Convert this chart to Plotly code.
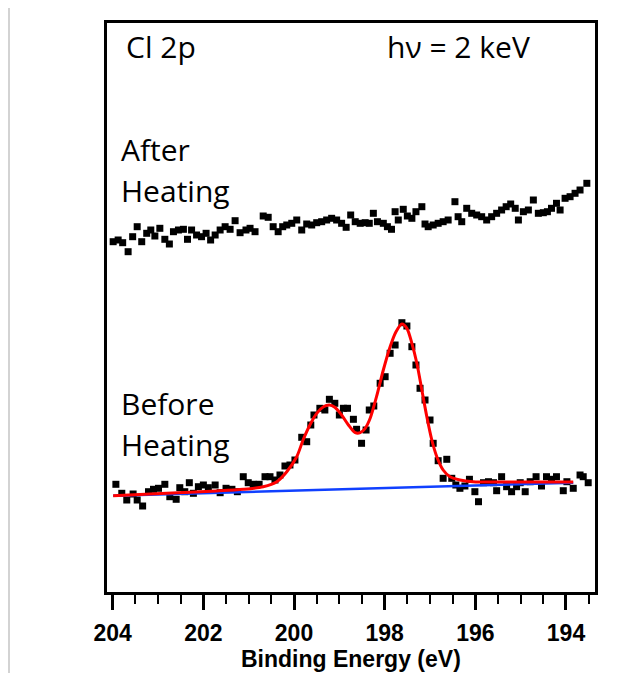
import plotly.graph_objects as go

# ---------------- data (binding energy in eV, intensity in arbitrary units) ----------------
before_energy = [203.93, 203.80, 203.69, 203.55, 203.46, 203.34, 203.21, 203.10, 202.99, 202.85,
                 202.74, 202.60, 202.52, 202.41, 202.31, 202.22, 202.11, 202.00, 201.89, 201.74,
                 201.63, 201.50, 201.37, 201.25, 201.12, 201.01, 200.90, 200.77, 200.64, 200.53,
                 200.42, 200.31, 200.20, 200.09, 199.98, 199.83, 199.72, 199.63, 199.56, 199.43,
                 199.32, 199.22, 199.10, 199.00, 198.91, 198.82, 198.69, 198.62, 198.51, 198.41,
                 198.34, 198.24, 198.10, 197.99, 197.88, 197.77, 197.62, 197.51, 197.40, 197.31,
                 197.22, 197.11, 197.00, 196.93, 196.82, 196.71, 196.63, 196.52, 196.43, 196.34,
                 196.23, 196.13, 196.01, 195.93, 195.82, 195.71, 195.60, 195.53, 195.42, 195.31,
                 195.20, 195.09, 195.01, 194.90, 194.79, 194.66, 194.54, 194.43, 194.32, 194.21,
                 194.06, 193.98, 193.84, 193.69, 193.62, 193.51]
before_intensity = [109.7, 100.7, 94.0, 100.0, 94.0, 88.0, 102.3, 104.7, 105.7, 109.7,
                    97.3, 94.7, 106.3, 102.3, 111.3, 100.7, 107.3, 109.0, 106.3, 109.0,
                    101.3, 105.7, 104.7, 102.3, 117.3, 111.3, 109.7, 109.7, 117.3, 117.3,
                    114.0, 119.0, 128.0, 129.0, 134.0, 156.7, 152.3, 169.0, 179.0, 185.7,
                    184.0, 194.7, 190.7, 179.0, 185.7, 185.7, 174.7, 164.7, 150.7, 164.0,
                    184.0, 188.0, 210.7, 217.3, 240.7, 249.0, 271.3, 268.0, 247.3, 229.0,
                    205.7, 194.0, 174.0, 150.7, 133.3, 115.7, 134.7, 115.7, 109.0, 105.7,
                    108.0, 114.7, 102.3, 92.3, 111.3, 112.3, 111.3, 103.3, 117.3, 107.3,
                    102.3, 107.3, 111.3, 102.3, 112.3, 117.3, 108.0, 117.3, 114.7, 117.3,
                    103.3, 112.3, 105.7, 119.0, 117.3, 111.3]

after_energy = [203.99, 203.88, 203.78, 203.66, 203.56, 203.46, 203.36, 203.25, 203.16, 203.07,
                202.96, 202.85, 202.75, 202.66, 202.55, 202.44, 202.35, 202.26, 202.15, 202.04,
                201.94, 201.84, 201.74, 201.63, 201.52, 201.41, 201.30, 201.19, 201.06, 200.97,
                200.86, 200.68, 200.57, 200.46, 200.35, 200.25, 200.16, 200.05, 199.94, 199.83,
                199.72, 199.61, 199.50, 199.39, 199.28, 199.17, 199.06, 198.95, 198.85, 198.75,
                198.65, 198.54, 198.43, 198.34, 198.25, 198.16, 198.03, 197.94, 197.85, 197.77,
                197.70, 197.59, 197.50, 197.40, 197.31, 197.18, 197.11, 197.04, 196.93, 196.82,
                196.71, 196.60, 196.45, 196.38, 196.30, 196.19, 196.08, 195.97, 195.86, 195.75,
                195.64, 195.53, 195.42, 195.32, 195.22, 195.12, 195.05, 194.94, 194.83, 194.72,
                194.61, 194.50, 194.41, 194.32, 194.21, 194.13, 194.02, 193.91, 193.80, 193.69,
                193.54]
after_intensity = [352.3, 354.0, 351.3, 342.3, 357.3, 367.3, 352.3, 360.7, 364.0, 358.0,
                   365.7, 354.7, 350.0, 362.3, 364.0, 364.7, 354.7, 364.0, 359.0, 357.3,
                   360.7, 354.0, 359.0, 364.0, 367.3, 364.7, 373.3, 361.3, 364.0, 365.7,
                   362.3, 378.0, 376.7, 367.3, 362.3, 367.3, 369.0, 370.7, 374.0, 364.0,
                   370.0, 369.0, 371.3, 372.3, 374.0, 375.7, 374.0, 370.7, 366.7, 379.0,
                   372.3, 370.7, 371.3, 370.7, 380.7, 372.3, 370.7, 367.3, 364.7, 382.3,
                   374.0, 384.7, 378.0, 375.7, 382.3, 387.3, 370.0, 367.3, 369.0, 370.7,
                   372.3, 374.0, 392.3, 377.3, 372.3, 385.7, 380.7, 379.0, 377.3, 374.0,
                   377.3, 380.7, 384.0, 387.3, 390.0, 385.7, 374.0, 382.3, 384.0, 394.0,
                   380.7, 381.3, 382.3, 385.7, 390.7, 384.0, 395.7, 397.3, 400.7, 404.0,
                   410.7]

fit_energy = [203.99, 202.81, 201.71, 201.12, 200.68, 200.38, 200.16, 199.94, 199.80, 199.65,
              199.50, 199.35, 199.22, 199.10, 198.95, 198.80, 198.65, 198.54, 198.43, 198.32,
              198.18, 198.03, 197.88, 197.75, 197.62, 197.51, 197.40, 197.29, 197.18, 197.07,
              196.96, 196.85, 196.71, 196.56, 196.34, 196.05, 195.46, 194.72, 193.84]
fit_intensity = [98.3, 100.7, 103.0, 104.7, 107.3, 112.3, 122.3, 137.3, 154.0, 169.0,
                 180.7, 187.3, 189.0, 186.7, 179.0, 169.0, 161.3, 161.3, 165.7, 175.7,
                 197.3, 224.0, 247.3, 262.3, 270.0, 265.7, 250.7, 230.7, 204.0, 177.3,
                 154.0, 137.3, 124.0, 117.3, 114.0, 112.3, 112.0, 112.0, 112.0]

background_energy = [203.99, 193.84]
background_intensity = [98.3, 111.3]

x_ticks = [204, 202, 200, 198, 196, 194]

# ---------------- figure ----------------
fig = go.Figure()

marker_style = dict(symbol="square", size=7, color="black", line=dict(width=0))
fig.add_trace(go.Scatter(x=after_energy, y=after_intensity, mode="markers",
                         marker=marker_style, name="After Heating"))
fig.add_trace(go.Scatter(x=before_energy, y=before_intensity, mode="markers",
                         marker=marker_style, name="Before Heating"))
fig.add_trace(go.Scatter(x=background_energy, y=background_intensity, mode="lines",
                         line=dict(color="#1040ff", width=2.5), name="Background"))
fig.add_trace(go.Scatter(x=fit_energy, y=fit_intensity, mode="lines",
                         line=dict(color="#ff0000", width=3, shape="spline", smoothing=0.8),
                         name="Fit"))

text_font = dict(family="Open Sans", size=30, color="black")
annos = [
    ("Cl 2p", 203.75, 548.0),
    ("h\u03bd = 2 keV", 198.0, 548.0),
    ("After", 203.86, 444.6),
    ("Heating", 203.86, 404.0),
    ("Before", 203.86, 190.6),
    ("Heating", 203.86, 149.6),
]
for txt, xx, yy in annos:
    fig.add_annotation(x=xx, y=yy, xref="x", yref="y", text=txt, showarrow=False,
                       xanchor="left", yanchor="middle", font=text_font)

bold_font = dict(family="Liberation Sans, Arial, sans-serif", color="black", weight="bold")

# plot area: x 99..587, y 15..584 (figure pixels)
fig.add_annotation(x=0.5, y=(584 - 651) / 569, xref="paper", yref="paper",
                   text="Binding Energy (eV)", showarrow=False,
                   xanchor="center", yanchor="middle",
                   font=dict(size=23, **bold_font))

# thin grey line at the left edge of the picture
fig.add_shape(type="line", xref="paper", yref="paper",
              x0=(1 - 99) / 488, x1=(1 - 99) / 488,
              y0=(584 + 1) / 569, y1=(584 - 673) / 569,
              line=dict(color="#c4c4c4", width=1.5))

fig.update_xaxes(range=[204.126, 193.36], tickvals=x_ticks,
                 ticktext=[str(t) for t in x_ticks],
                 ticks="outside", ticklen=15, tickwidth=3, tickcolor="black",
                 minor=dict(dtick=0.5, tick0=0, ticks="outside", ticklen=9, tickwidth=2,
                            tickcolor="black", showgrid=False),
                 showline=True, linewidth=3, linecolor="black", mirror=True,
                 showgrid=False, zeroline=False, ticklabelstandoff=3,
                 tickfont=dict(size=23, **bold_font))
fig.update_yaxes(range=[2, 571], showticklabels=False, ticks="",
                 showline=True, linewidth=3, linecolor="black", mirror=True,
                 showgrid=False, zeroline=False)

fig.update_layout(width=641, height=673, autosize=False,
                  margin=dict(l=99, r=54, t=15, b=89),
                  plot_bgcolor="white", paper_bgcolor="white",
                  showlegend=False)

fig.write_html("out.html")
